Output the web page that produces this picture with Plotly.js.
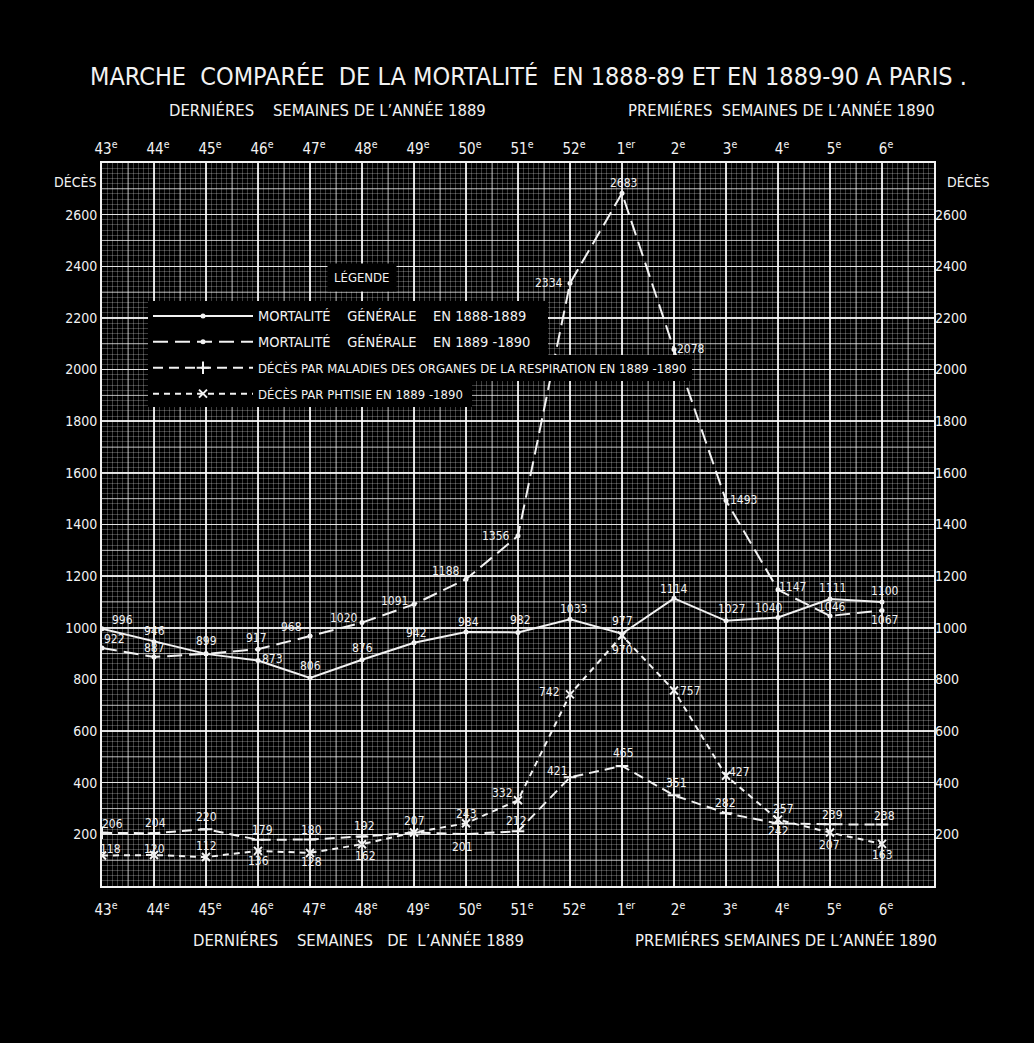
<!DOCTYPE html>
<html>
<head>
<meta charset="utf-8">
<script src="https://cdn.plot.ly/plotly-3.0.1.min.js"></script>
<style>html,body{margin:0;padding:0;background:#000;}</style>
</head>
<body>
<div id="chart" style="width:1034px;height:1043px;"></div>
<script>
// ---- data ----
var weekLabels = ["43<sup>e</sup>","44<sup>e</sup>","45<sup>e</sup>","46<sup>e</sup>","47<sup>e</sup>","48<sup>e</sup>","49<sup>e</sup>","50<sup>e</sup>","51<sup>e</sup>","52<sup>e</sup>","1<sup>er</sup>","2<sup>e</sup>","3<sup>e</sup>","4<sup>e</sup>","5<sup>e</sup>","6<sup>e</sup>"];
var mortalite1888 = [996, 946, 899, 873, 806, 876, 942, 984, 982, 1033, 977, 1114, 1027, 1040, 1111, 1100];
var mortalite1889 = [922, 887, 899, 917, 968, 1020, 1091, 1188, 1356, 2334, 2683, 2078, 1493, 1147, 1046, 1067];
var respiration   = [206, 204, 220, 179, 180, 192, 207, 201, 212, 421, 465, 351, 282, 242, 239, 238];
var phtisie       = [118, 120, 112, 136, 128, 162, 207, 243, 332, 742, 970, 757, 427, 257, 207, 163];
// which value labels are written (shared ones are written once)
var show1888 = [1,1,1,1,1,1,1,1,1,1,1,1,1,1,1,1];
var show1889 = [1,1,0,1,1,1,1,1,1,1,1,1,1,1,1,1];
var showResp = [1,1,1,1,1,1,1,1,1,1,1,1,1,1,1,1];
var showPhti = [1,1,1,1,1,1,0,1,1,1,1,1,1,1,1,1];
var yTicks = [200,400,600,800,1000,1200,1400,1600,1800,2000,2200,2400,2600];

// ---- label offsets (pixels) ----
var off1888 = {dx:[20,0,0,14,0,0,2,2,2,3,0,0,5,-9,2,3], dy:[-9,-11,-13,-2,-12,-12,-10,-10,-12,-10,-13,-9,-12,-9,-11,-11]};
var off1889 = {dx:[12,0,0,-2,-19,-18,-20,-20,-22,-21,1,17,17,14,2,2], dy:[-9,-9,0,-11,-9,-5,-3,-8,0,0,-10,0,0,-3,-9,10]};
var offResp = {dx:[10,1,0,4,1,2,0,-4,-2,-13,1,2,-1,0,2,2], dy:[-9,-10,-12,-10,-10,-10,-12,13,-10,-6,-13,-12,-10,7,-9,-9]};
var offPhti = {dx:[8,0,0,0,1,3,0,0,-16,-21,0,16,13,5,-1,0], dy:[-7,-6,-11,10,9,12,0,-9,-7,-2,14,0,-4,-11,12,11]};

var FONT = "'DejaVu Sans Condensed', 'Liberation Sans Narrow', 'DejaVu Sans', sans-serif";
var WHITE = '#f2f2f2';
var idx = weekLabels.map(function(_, i){ return i; });
var NB = '\u00a0';
var S4 = NB + NB + NB + NB;

// plot area in pixels
var L = 102, R = 934, T = 163, B = 886;
function px(x){ return (x - L) / (R - L); }
function py(y){ return (B - y) / (B - T); }

function big(s){ return '<span style="font-size:14.5px">' + s + '</span>'; }

var traces = [
  {name: big('MORTALITÉ' + S4 + 'GÉNÉRALE' + S4 + 'EN 1888-1889'), x: idx, y: mortalite1888, mode:'lines+markers',
   line:{color:WHITE, width:2}, marker:{symbol:'circle', size:5, color:WHITE}, legendgroup:'a', hoverinfo:'y'},
  {name: big('MORTALITÉ' + S4 + 'GÉNÉRALE' + S4 + 'EN 1889 -1890'), x: idx, y: mortalite1889, mode:'lines+markers',
   line:{color:WHITE, width:2, dash:'15px,7px'}, marker:{symbol:'circle', size:5, color:WHITE}, legendgroup:'b', hoverinfo:'y'},
  {name:'DÉCÈS PAR MALADIES DES ORGANES DE LA RESPIRATION EN 1889 -1890', x: idx, y: respiration, mode:'lines+markers',
   line:{color:WHITE, width:2, dash:'10px,6px'}, marker:{symbol:'cross-thin', size:9, color:WHITE, line:{color:WHITE, width:2}}, legendgroup:'c', hoverinfo:'y'},
  {name:'DÉCÈS PAR PHTISIE EN 1889 -1890', x: idx, y: phtisie, mode:'lines+markers', xaxis:'x2', yaxis:'y2',
   line:{color:WHITE, width:2, dash:'6px,5px'}, marker:{symbol:'x-thin', size:8, color:WHITE, line:{color:WHITE, width:2}}, legendgroup:'d', hoverinfo:'y'}
];

// value labels
var annotations = [];
function addLabels(vals, shows, off, xa, ya){
  vals.forEach(function(v, i){
    if (!shows[i]) return;
    annotations.push({x:i, y:v, xref:xa, yref:ya, text:String(v), showarrow:false,
      xshift:off.dx[i], yshift:-off.dy[i], font:{family:FONT, size:12, color:WHITE}});
  });
}
addLabels(mortalite1888, show1888, off1888, 'x', 'y');
addLabels(mortalite1889, show1889, off1889, 'x', 'y');
addLabels(respiration, showResp, offResp, 'x', 'y');
addLabels(phtisie, showPhti, offPhti, 'x2', 'y2');

function txt(text, x, y, size, extra){
  var a = {xref:'paper', yref:'paper', x:px(x), y:py(y), text:text, showarrow:false,
    xanchor:'center', yanchor:'middle', font:{family:FONT, size:size, color:WHITE}};
  if (extra) for (var k in extra) a[k] = extra[k];
  annotations.push(a);
}
txt('MARCHE' + NB + NB + 'COMPARÉE' + NB + ' DE LA MORTALITÉ' + NB + ' EN 1888-89 ET EN 1889-90 A PARIS .', 528, 77, 25);
txt('DERNIÉRES' + NB+NB+NB+NB + 'SEMAINES DE L’ANNÉE 1889', 327, 110, 16.5);
txt('PREMIÉRES' + NB+NB + 'SEMAINES DE L’ANNÉE 1890', 781, 110, 16.5);
txt('DERNIÉRES' + NB+NB+NB+NB + 'SEMAINES' + NB+NB+NB + 'DE' + NB+NB + 'L’ANNÉE' + NB + '1889', 358, 940, 16.5);
txt('PREMIÉRES SEMAINES DE L’ANNÉE 1890', 786, 940, 16.5);
txt('DÉCÈS', 75, 182, 14);
txt('DÉCÈS', 968, 182, 14);
txt('LÉGENDE', 362, 277, 13, {bgcolor:'#000', borderpad:6});

// graph-paper intermediate lines (half weeks, hundreds)
var shapes = [];
for (var h = 0.5; h < 16; h += 1) {
  shapes.push({type:'line', xref:'x', yref:'paper', x0:h, x1:h, y0:0, y1:1, layer:'below', line:{color:'rgba(255,255,255,0.6)', width:1}});
}
for (var v = 100; v < 2800; v += 200) {
  shapes.push({type:'line', xref:'paper', yref:'y', x0:0, x1:1, y0:v, y1:v, layer:'below', line:{color:'rgba(255,255,255,0.6)', width:1}});
}
// black panels behind the legend rows (they cover the grid and the curves, as on the original)
function panel(x0, y0, x1, y1){
  shapes.push({type:'rect', xref:'paper', yref:'paper', x0:px(x0), x1:px(x1), y0:py(y1), y1:py(y0),
    layer:'above', fillcolor:'#000', line:{width:0}});
}
panel(148, 301, 548, 355);
panel(148, 355, 692, 381);
panel(148, 381, 472, 407);

var xCommon = {range:[0,16], tickmode:'array', tickvals:idx, ticktext:weekLabels, ticks:'',
  tickfont:{family:FONT, size:15, color:WHITE}, zeroline:false, fixedrange:true, ticklabelshift:4};
var yCommon = {range:[0,2800], tickmode:'array', tickvals:yTicks, ticks:'',
  tickfont:{family:FONT, size:14, color:WHITE}, zeroline:false, fixedrange:true};

var layout = {
  width:1034, height:1043,
  margin:{l:L, r:1034-R, t:T, b:1043-B, pad:0},
  paper_bgcolor:'#000', plot_bgcolor:'#000',
  font:{family:FONT, color:WHITE},
  showlegend:true,
  legend:{x:px(148), y:py(301), xanchor:'left', yanchor:'top', bgcolor:'rgba(0,0,0,0)', borderwidth:0,
    font:{family:FONT, size:13, color:WHITE}, itemwidth:100, tracegroupgap:6, traceorder:'grouped'},
  xaxis: Object.assign({}, xCommon, {showgrid:true, gridcolor:'rgba(255,255,255,0.85)', gridwidth:1.5,
    showline:true, linecolor:WHITE, linewidth:2, mirror:true, ticklabelstandoff:9,
    minor:{dtick:0.1, tick0:0, showgrid:true, gridcolor:'rgba(255,255,255,0.24)', gridwidth:1, ticks:''}}),
  xaxis2: Object.assign({}, xCommon, {overlaying:'x', side:'top', anchor:'y2', showgrid:false, ticklabelstandoff:5}),
  yaxis: Object.assign({}, yCommon, {showgrid:true, gridcolor:'rgba(255,255,255,0.85)', gridwidth:1.5,
    showline:true, linecolor:WHITE, linewidth:2, mirror:true,
    minor:{dtick:20, tick0:0, showgrid:true, gridcolor:'rgba(255,255,255,0.24)', gridwidth:1, ticks:''}}),
  yaxis2: Object.assign({}, yCommon, {overlaying:'y', side:'right', anchor:'x2', showgrid:false}),
  annotations: annotations,
  shapes: shapes
};

Plotly.newPlot('chart', traces, layout, {displayModeBar:false, staticPlot:true});
</script>
</body>
</html>
